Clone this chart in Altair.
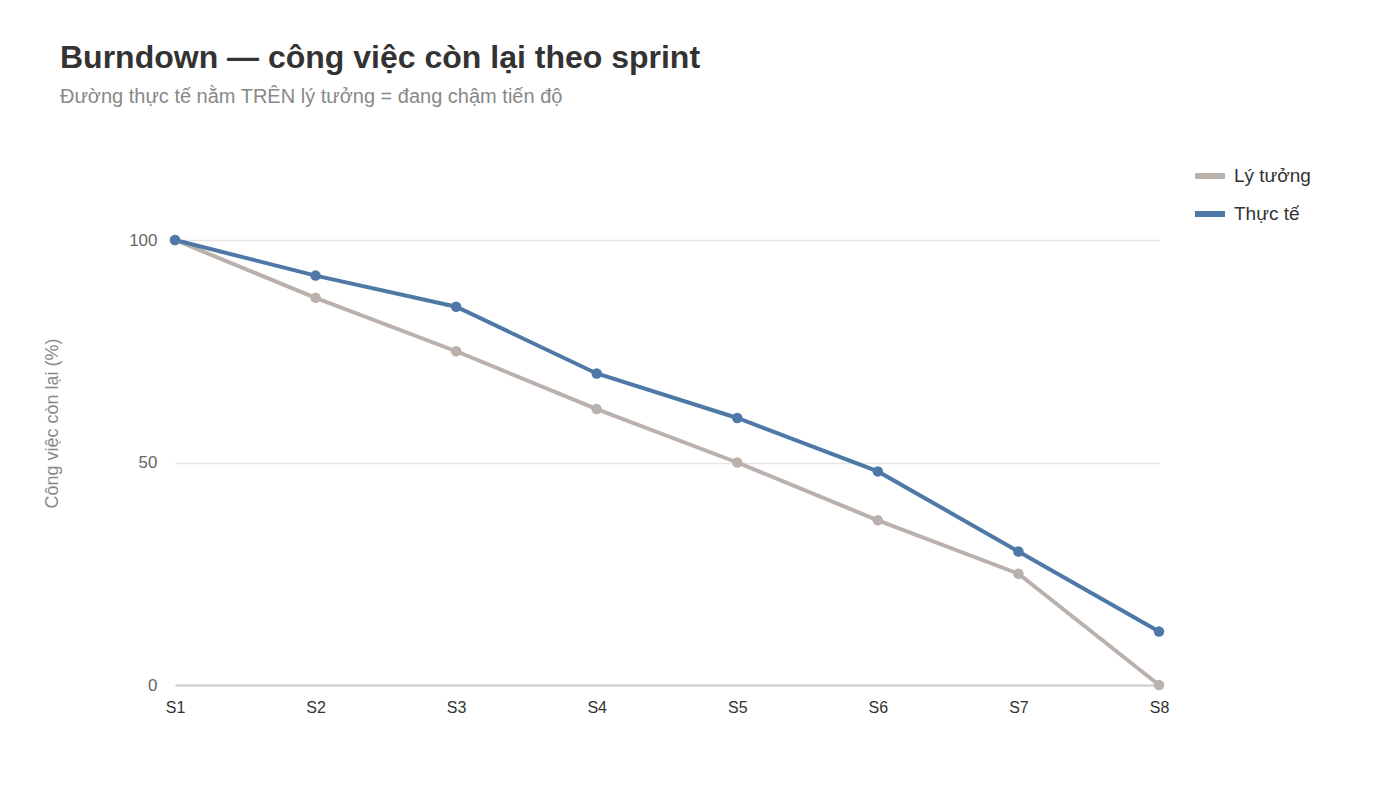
import altair as alt
import pandas as pd

sprints = ["S1", "S2", "S3", "S4", "S5", "S6", "S7", "S8"]
ideal = [100, 87, 75, 62, 50, 37, 25, 0]
actual = [100, 92, 85, 70, 60, 48, 30, 12]
series_names = ["Lý tưởng", "Thực tế"]
colors = ["#bab0ac", "#4e79a7"]

rows = []
for name, vals in zip(series_names, [ideal, actual]):
    for s, v in zip(sprints, vals):
        rows.append({"sprint": s, "value": v, "series": name})
df = pd.DataFrame(rows)

FONT = "Liberation Sans"

color = alt.Color(
    "series:N",
    scale=alt.Scale(domain=series_names, range=colors),
    legend=alt.Legend(
        title=None,
        orient="none",
        legendX=1017,
        legendY=-82,
        symbolType="stroke",
        symbolStrokeWidth=6,
        symbolSize=900,
        labelFontSize=19,
        labelFont=FONT,
        labelColor="#333333",
        rowPadding=8,
        labelOffset=6,
    ),
)

x = alt.X(
    "sprint:N",
    sort=sprints,
    scale=alt.Scale(padding=0),
    axis=alt.Axis(
        title=None,
        labelAngle=0,
        ticks=False,
        domainColor="#cccccc",
        domainWidth=2,
        labelFontSize=16,
        labelFont=FONT,
        labelColor="#333333",
        labelPadding=14,
        grid=False,
    ),
)
y = alt.Y(
    "value:Q",
    scale=alt.Scale(domain=[0, 100]),
    axis=alt.Axis(
        title="Công việc còn lại (%)",
        values=[0, 50, 100],
        ticks=False,
        domain=False,
        gridColor="#e6e6e6",
        gridWidth=1.5,
        labelFontSize=17,
        labelFont=FONT,
        labelColor="#666666",
        labelPadding=18,
        titleFontSize=18,
        titleFont=FONT,
        titleColor="#888888",
        titleFontWeight="normal",
        titleX=-123,
        titleY=183,
        titleAngle=270,
        titleAlign="center",
        titleBaseline="middle",
    ),
)

base = alt.Chart(df).encode(x=x, y=y, color=color)
lines = base.mark_line(strokeWidth=4)
points = base.mark_circle(size=110, opacity=1)

chart = (
    alt.layer(lines, points)
    .properties(
        width=984,
        height=445,
        background="white",
        autosize=alt.AutoSizeParams(type="none"),
        padding={"left": 175, "top": 240, "right": 241, "bottom": 102},
        title=alt.TitleParams(
            text="Burndown — công việc còn lại theo sprint",
            subtitle="Đường thực tế nằm TRÊN lý tưởng = đang chậm tiến độ",
            anchor="start",
            frame="group",
            dx=-115,
            offset=50,
            font=FONT,
            fontSize=32,
            fontWeight="bold",
            color="#333333",
            subtitleFont=FONT,
            subtitleFontSize=20,
            subtitleColor="#888888",
            subtitlePadding=12,
        ),
    )
    .configure_view(stroke=None, strokeWidth=0)
)

chart.save("out.html", embed_options={"renderer": "svg", "actions": False})
